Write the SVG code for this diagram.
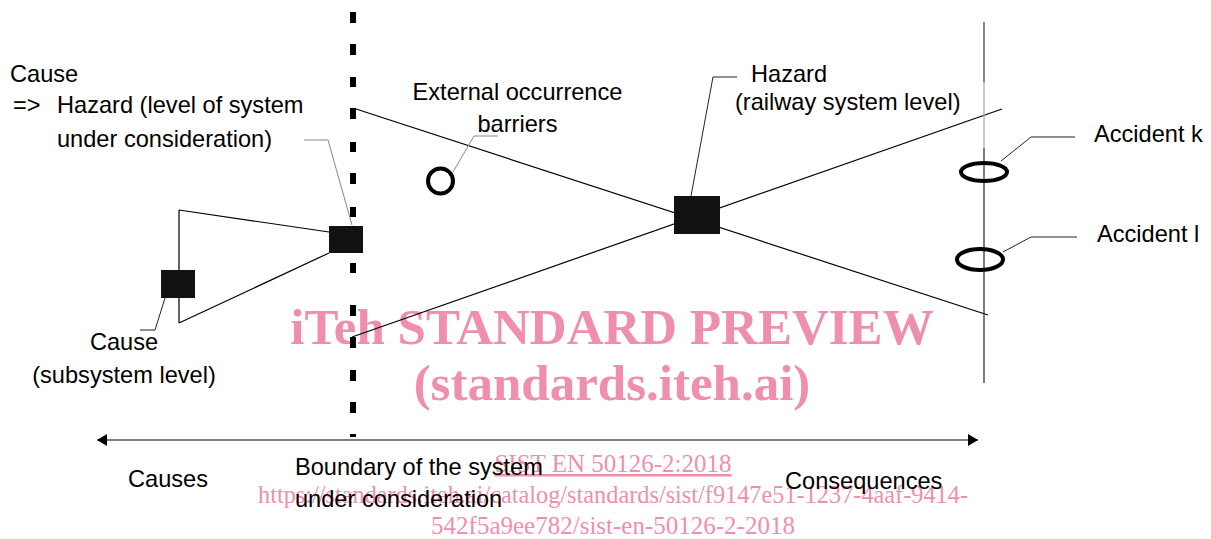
<svg xmlns="http://www.w3.org/2000/svg" width="1211" height="539" viewBox="0 0 1211 539">
<style>
.t{font-family:"Liberation Sans",Arial,sans-serif;font-size:23.6px;fill:#000}
.wm{font-family:"Liberation Serif","Times New Roman",serif;fill:#EF8FAD}
.wb{font-weight:bold;font-size:51px}
.wr{font-size:25px}
.ln{stroke:#000;stroke-width:1.2;fill:none}
.ld{stroke:#222;stroke-width:1;fill:none}
.lg{stroke:#888;stroke-width:1;fill:none}
.box{fill:#111}
.ring{fill:none;stroke:#000;stroke-width:4}
</style>
<defs>
<marker id="ah" viewBox="0 0 10 12" refX="10" refY="6" markerWidth="10" markerHeight="12" markerUnits="userSpaceOnUse" orient="auto-start-reverse">
<path d="M0 0L10 6L0 12Z" fill="#000"/>
</marker>
</defs>
<rect width="1211" height="539" fill="#fff"/>
<g id="watermark" class="wm" text-anchor="middle">
<text class="wb" x="612" y="344">iTeh STANDARD PREVIEW</text>
<text class="wb" x="612" y="400">(standards.iteh.ai)</text>
<text class="wr" x="613" y="472" text-decoration="underline">SIST EN 50126-2:2018</text>
<text class="wr" x="613" y="503" textLength="710" lengthAdjust="spacingAndGlyphs">https://standards.iteh.ai/catalog/standards/sist/f9147e51-1237-4aaf-9414-</text>
<text class="wr" x="613" y="534">542f5a9ee782/sist-en-50126-2-2018</text>
</g>
<g id="connectors">
<path id="boundary" d="M353 12V23M353 44V55M353 77V87M353 108V119M353 142V152M353 173V184M353 207V217M353 240V250M353 263V273M353 305V316M353 337V348M353 370V381M353 402V413M353 434V437" stroke="#000" stroke-width="6" fill="none"/>
<path class="ln" d="M356 109L988 315"/>
<path class="ln" d="M352 337L1002 109"/>
<path class="ln" d="M179 210V323M179 210L329 232M179 323L329 253"/>
<path class="ld" d="M165 298L155 330H140"/>
<path class="lg" d="M304 140H328L352 225"/>
<path class="lg" d="M453 172L474 136H498"/>
<path class="ld" d="M691 196L713 77H737"/>
<path d="M984 22V82" stroke="#444" stroke-width="1.3"/>
<path d="M984 82V148" stroke="#aaa" stroke-width="1.2"/>
<path d="M984 148V383" stroke="#333" stroke-width="1.3"/>
<path class="ld" d="M1001 161L1031 137H1075"/>
<path class="ld" d="M1003 252L1031 237H1077"/>
<path d="M97 440H978" stroke="#555" stroke-width="1.5" marker-start="url(#ah)" marker-end="url(#ah)"/>
</g>
<g id="cause-system">
<rect class="box" x="329" y="226" width="34" height="27"/>
<text class="t" x="10" y="82">Cause</text>
<text class="t" x="13" y="113">=&gt;</text>
<text class="t" x="57" y="113">Hazard (level of system</text>
<text class="t" x="57" y="147">under consideration)</text>
</g>
<g id="cause-subsystem">
<rect class="box" x="161" y="270" width="34" height="28"/>
<text class="t" x="124" y="350" text-anchor="middle">Cause</text>
<text class="t" x="124" y="383" text-anchor="middle">(subsystem level)</text>
</g>
<g id="barrier">
<circle class="ring" cx="440.5" cy="181" r="12.5"/>
<text class="t" x="517.5" y="100" text-anchor="middle">External occurrence</text>
<text class="t" x="517.5" y="132" text-anchor="middle">barriers</text>
</g>
<g id="hazard-railway">
<rect class="box" x="674" y="196" width="46" height="38"/>
<text class="t" x="751" y="82">Hazard</text>
<text class="t" x="735" y="110">(railway system level)</text>
</g>
<g id="accident-k">
<ellipse class="ring" cx="984" cy="172" rx="23" ry="9"/>
<text class="t" x="1094" y="142">Accident k</text>
</g>
<g id="accident-l">
<ellipse class="ring" cx="980" cy="259.5" rx="23" ry="10.5"/>
<text class="t" x="1097" y="242">Accident l</text>
</g>
<g id="labels">
<text class="t" x="128" y="487">Causes</text>
<text class="t" x="295" y="475">Boundary of the system</text>
<text class="t" x="295" y="507">under consideration</text>
<text class="t" x="785" y="489">Consequences</text>
</g>
</svg>
